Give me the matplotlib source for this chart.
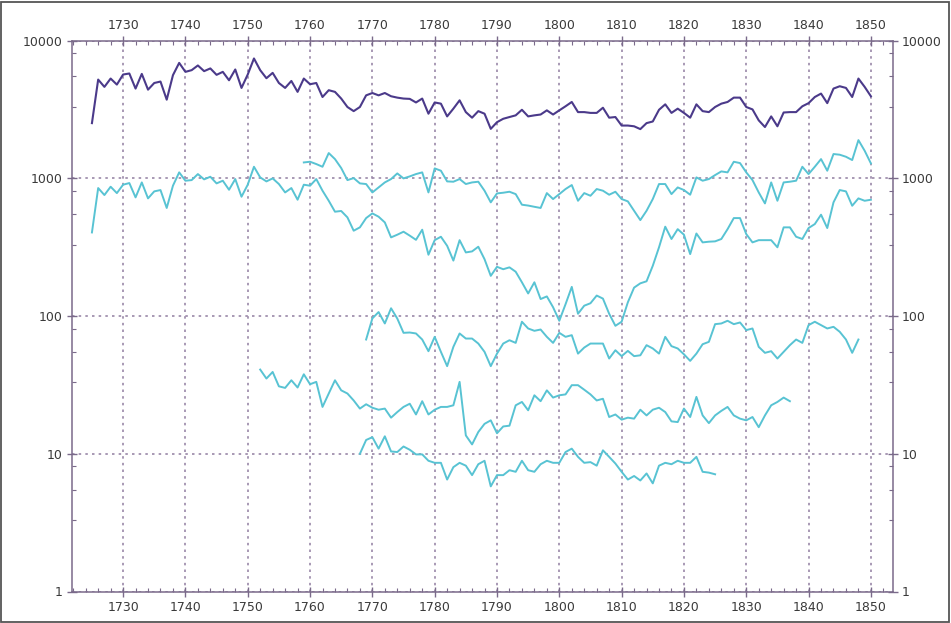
import numpy as np
import matplotlib
matplotlib.use("Agg")
import matplotlib.pyplot as plt
from matplotlib.ticker import FixedLocator, NullFormatter
from matplotlib.patches import Rectangle

# ---------------- data ----------------
purple_start = 1725
purple_vals = [2520, 5220, 4620, 5310, 4800, 5680, 5780, 4490, 5740, 4410,
               4930, 5050, 3730, 5620, 6900, 5940, 6110, 6610, 6010, 6290,
               5650, 5940, 5160, 6180, 4540, 5680, 7430, 6110, 5340, 5840,
               4930, 4540, 5100, 4250, 5310, 4830, 4930, 3900, 4370, 4250,
               3800, 3300, 3080, 3300, 4010, 4170, 4010, 4170, 3950, 3860,
               3800, 3780, 3560, 3800, 2950, 3560, 3490, 2820, 3210, 3690,
               3030, 2760, 3080, 2950, 2290, 2560, 2710, 2790, 2870, 3150,
               2820, 2870, 2910, 3120, 2910, 3120, 3340, 3590, 3030, 3030,
               2990, 2990, 3260, 2760, 2790, 2420, 2420, 2390, 2280, 2520,
               2590, 3150, 3450, 2990, 3210, 2990, 2760, 3450, 3080, 3030,
               3300, 3490, 3590, 3860, 3860, 3300, 3170, 2640, 2360, 2820,
               2390, 3010, 3030, 3030, 3340, 3520, 3900, 4130, 3520, 4490,
               4670, 4540, 3900, 5310, 4620, 3950]

cyanA_start = 1725
cyanA_vals = [405, 851, 757, 870, 782, 900, 925, 728, 935, 716,
              805, 823, 610, 885, 1106, 962, 972, 1075, 984, 1028,
              920, 962, 827, 989, 736, 900, 1215, 1017, 951, 1000,
              910, 791, 851, 700, 900, 885, 989, 814, 688, 573,
              580, 521, 417, 441, 515, 557, 527, 479, 373, 390,
              410, 384, 358, 424, 279, 356, 377, 324, 253, 356,
              290, 295, 319, 259, 196, 228, 219, 226, 210, 176,
              146, 176, 133, 139, 116, 92.5, 122, 163, 104, 119,
              124, 141, 134, 104, 85, 91, 126, 161, 173, 179,
              232, 316, 446, 363, 428, 390, 282, 398, 343, 347,
              349, 363, 428, 515, 515, 394, 343, 356, 356, 356,
              316, 441, 441, 377, 363, 436, 466, 545, 436, 670,
              823, 805, 633, 716, 688, 700]

cyanB_start = 1759
cyanB_vals = [1306, 1321, 1271, 1215, 1528, 1381, 1189, 972, 1005, 920,
              910, 791, 860, 935, 989, 1087, 1000, 1034, 1075, 1106,
              791, 1182, 1137, 951, 946, 989, 910, 935, 946, 814,
              670, 778, 787, 800, 769, 644, 635, 622, 610, 782,
              708, 769, 837, 895, 688, 782, 748, 837, 814, 761,
              800, 708, 681, 582, 498, 582, 708, 910, 910, 769,
              860, 823, 761, 1017, 962, 989, 1057, 1124, 1106, 1321,
              1292, 1106, 972, 791, 658, 935, 688, 935, 946, 962,
              1215, 1075, 1215, 1381, 1137, 1503, 1486, 1436, 1359, 1897,
              1588, 1285]

cyanC_start = 1769
cyanC_vals = [67.6, 96.2, 107, 88.4, 114, 96, 75.6, 76, 74.8, 67.6,
              55.6, 70.7, 55, 43.3, 59.8, 74.8, 68.7, 68.7, 63.2, 55,
              43.3, 53.4, 63.2, 66.8, 63.9, 91, 81.3, 78.2, 79.9, 70.7,
              63.9, 75.6, 70.7, 72.7, 53.4, 59.1, 63.2, 63.2, 63.2, 49.2,
              56.5, 51.2, 55.9, 51.2, 51.9, 61.5, 58.2, 53.4, 70.7, 60.5,
              58.2, 52.8, 47.3, 53.4, 62.5, 65, 87.4, 88.4, 92.5, 87.4,
              89.9, 79.1, 81.3, 59.8, 54.1, 55.6, 49.2, 55, 61.5, 67.6,
              63.9, 86, 91, 86, 81.3, 83.6, 76.9, 67.6, 54.1, 67.6]

cyanD_start = 1752
cyanD_vals = [40.9, 35.2, 39.3, 30.9, 30.1, 34.2, 30.3, 37.8, 32, 33.3,
              21.9, 27.4, 34.2, 28.9, 27.4, 24.4, 21.3, 22.9, 21.6, 20.9,
              21.3, 18.3, 20.1, 21.9, 23.1, 19.3, 24.1, 19.3, 20.9, 21.9,
              21.9, 22.5, 33.3, 13.6, 11.7, 14.4, 16.5, 17.5, 14.1, 15.8,
              16, 22.5, 23.8, 20.7, 26.6, 24.1, 28.9, 25.6, 26.6, 27,
              31.5, 31.5, 29.2, 27, 24.4, 25.1, 18.5, 19.3, 17.7, 18.3,
              18, 20.9, 19, 20.9, 21.6, 20.1, 17.2, 17, 21.3, 18.5,
              25.9, 19, 16.7, 19, 20.5, 21.9, 19, 18, 17.5, 18.5,
              15.6, 19, 22.5, 23.8, 25.6, 24.1]

cyanE_start = 1768
cyanE_vals = [10, 12.6, 13.2, 10.9, 13.4, 10.4, 10.3, 11.3, 10.7, 9.9,
              9.9, 8.9, 8.6, 8.6, 6.5, 8.0, 8.6, 8.2, 7.0, 8.4,
              8.9, 5.8, 7.0, 7.0, 7.6, 7.4, 8.9, 7.6, 7.4, 8.4,
              8.9, 8.6, 8.6, 10.3, 10.9, 9.5, 8.6, 8.7, 8.2, 10.6,
              9.5, 8.5, 7.4, 6.5, 6.9, 6.4, 7.2, 6.1, 8.2, 8.6,
              8.4, 8.9, 8.6, 8.6, 9.5, 7.4, 7.3, 7.1]

x_ticks = [1730, 1740, 1750, 1760, 1770, 1780, 1790, 1800, 1810, 1820, 1830, 1840, 1850]
y_ticks = [1, 10, 100, 1000, 10000]
y_labels = ["1", "10", "100", "1000", "10000"]

# ---------------- style ----------------
PURPLE = "#4b3a8a"
CYAN = "#58c3d3"
GRID = "#9a88a8"
AXC = "#7a6a8a"
TXT = "#3a3a3a"

fig = plt.figure(figsize=(9.51, 6.23), dpi=100)
ax = fig.add_axes([72 / 951, 1 - 591.5 / 623, (892.7 - 72) / 951, (591.5 - 40.7) / 623])

def yrs(start, vals):
    return np.arange(start, start + len(vals))

for start, vals in [(cyanA_start, cyanA_vals), (cyanB_start, cyanB_vals),
                    (cyanC_start, cyanC_vals), (cyanD_start, cyanD_vals),
                    (cyanE_start, cyanE_vals)]:
    ax.plot(yrs(start, vals), vals, color=CYAN, lw=1.4)
ax.plot(yrs(purple_start, purple_vals), purple_vals, color=PURPLE, lw=1.5)

ax.set_yscale("log")
ax.set_xlim(1721.8, 1853.5)
ax.set_ylim(1, 10000)

ax.set_xticks(x_ticks)
ax.set_xticklabels([str(t) for t in x_ticks])
ax.xaxis.set_minor_locator(FixedLocator(np.arange(1722, 1854, 2)))
ax.set_yticks(y_ticks)
ax.set_yticklabels(y_labels)
minor_y = [d * s for d in [1, 10, 100, 1000] for s in (3.3, 5.5, 8.1)]
ax.yaxis.set_minor_locator(FixedLocator(minor_y))
ax.yaxis.set_minor_formatter(NullFormatter())

ax.tick_params(which="major", direction="inout", length=7, width=1, color=AXC,
               top=True, right=True, labeltop=True, labelright=True,
               labelsize=9, labelcolor=TXT, pad=3)
ax.tick_params(which="minor", direction="in", length=3, width=0.8, color=AXC,
               top=True, right=True)

for sp in ax.spines.values():
    sp.set_color(AXC)
    sp.set_linewidth(1.1)

ax.grid(True, which="major", color=GRID, linestyle=(0, (1.5, 2.5)), linewidth=1.2)

fig.add_artist(Rectangle((0.001, 0.002), 0.997, 0.995, transform=fig.transFigure,
                         fill=False, edgecolor="#555555", linewidth=1.3))

fig.savefig("out.png", dpi=100)
